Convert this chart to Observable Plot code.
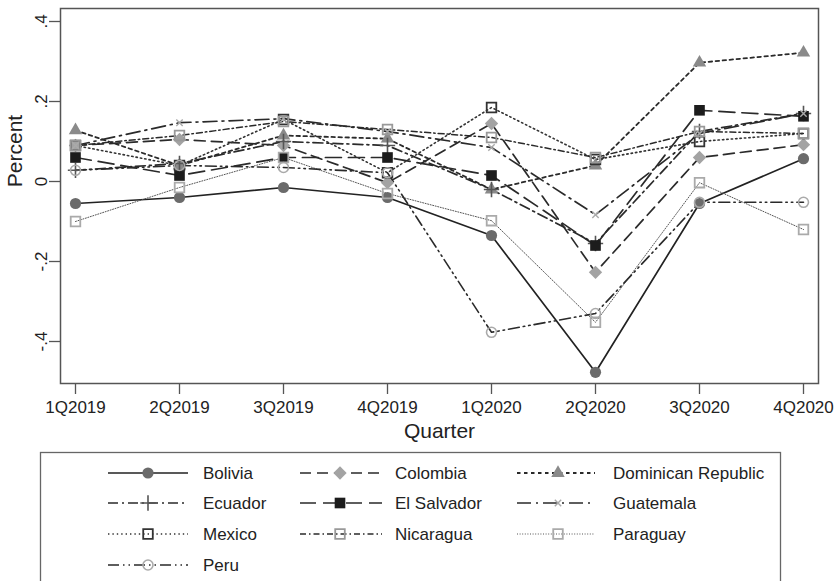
<!DOCTYPE html>
<html>
<head>
<meta charset="utf-8">
<script src="https://cdn.jsdelivr.net/npm/d3@7"></script>
<script src="https://cdn.jsdelivr.net/npm/@observablehq/plot@0.6"></script>
<style>
  html, body { margin: 0; padding: 0; background: white; }
  #wrap { position: relative; width: 837px; height: 581px; overflow: hidden; font-family: 'Liberation Sans', Arial, sans-serif; }
  #legend { position: absolute; left: 0; top: 445px; }
</style>
</head>
<body>
<div id="wrap"><div id="chart"></div><div id="legend"></div></div>
<script>
const quarters = ["1Q2019","2Q2019","3Q2019","4Q2019","1Q2020","2Q2020","3Q2020","4Q2020"];
const yTicks = [-0.4, -0.2, 0, 0.2, 0.4];
const yTickLabels = ["-.4", "-.2", "0", ".2", ".4"];

const bolivia    = [-0.055, -0.040, -0.015, -0.040, -0.135, -0.477, -0.055,  0.057];
const colombia   = [ 0.090,  0.105,  0.090, -0.003,  0.145, -0.227,  0.060,  0.092];
const dominican  = [ 0.128,  0.040,  0.115,  0.107, -0.020,  0.040,  0.297,  0.322];
const ecuador    = [ 0.028,  0.045,  0.100,  0.090, -0.020, -0.155,  0.125,  0.170];
const elSalvador = [ 0.060,  0.015,  0.060,  0.060,  0.015, -0.160,  0.178,  0.163];
const guatemala  = [ 0.090,  0.147,  0.157,  0.125,  0.085, -0.083,  0.120,  0.170];
const mexico     = [ 0.090,  0.040,  0.155,  0.022,  0.185,  0.055,  0.100,  0.120];
const nicaragua  = [ 0.090,  0.115,  0.150,  0.130,  0.110,  0.060,  0.125,  0.120];
const paraguay   = [-0.100, -0.015,  0.060, -0.030, -0.098, -0.352, -0.003, -0.120];
const peru       = [ 0.028,  0.040,  0.035,  0.022, -0.377, -0.330, -0.052, -0.052];

const countries = ["Bolivia","Colombia","Dominican Republic","Ecuador","El Salvador","Guatemala","Mexico","Nicaragua","Paraguay","Peru"];
const values = [bolivia, colombia, dominican, ecuador, elSalvador, guatemala, mexico, nicaragua, paraguay, peru];

// styles
const styles = {
  "Bolivia":            {dash: null,              lw: 1.7, lc: "#222",    sym: d3.symbolCircle,   r: 5.6, fill: "#6b6b6b", stroke: "none", sw: 0},
  "Colombia":           {dash: "11,6",            lw: 1.7, lc: "#2a2a2a", sym: d3.symbolDiamond2, r: 6.0, fill: "#a3a3a3", stroke: "none", sw: 0},
  "Dominican Republic": {dash: "3.5,3.5",         lw: 1.8, lc: "#2a2a2a", sym: d3.symbolTriangle, r: 5.0, fill: "#8a8a8a", stroke: "none", sw: 0},
  "Ecuador":            {dash: "10,4,2,4",        lw: 1.7, lc: "#2a2a2a", sym: d3.symbolPlus,     r: 5.0, fill: "none",    stroke: "#555", sw: 1.6},
  "El Salvador":        {dash: "16,7",            lw: 1.7, lc: "#2a2a2a", sym: d3.symbolSquare,   r: 6.0, fill: "#1c1c1c", stroke: "none", sw: 0},
  "Guatemala":          {dash: "14,5,2,5",        lw: 1.7, lc: "#2a2a2a", sym: d3.symbolTimes,    r: 3.0, fill: "none",    stroke: "#aaa", sw: 1.4},
  "Mexico":             {dash: "1.4,3",           lw: 1.6, lc: "#333",    sym: d3.symbolSquare,   r: 5.4, fill: "none",    stroke: "#333", sw: 1.8},
  "Nicaragua":          {dash: "6,3,1.5,3",       lw: 1.5, lc: "#2a2a2a", sym: d3.symbolSquare,   r: 5.4, fill: "none",    stroke: "#999", sw: 1.8},
  "Paraguay":           {dash: "1,1.6",           lw: 1.0, lc: "#555",    sym: d3.symbolSquare,   r: 5.4, fill: "none",    stroke: "#aaa", sw: 1.8},
  "Peru":               {dash: "11,4,1.5,4,1.5,4",lw: 1.6, lc: "#2a2a2a", sym: d3.symbolCircle,   r: 5.0, fill: "none",    stroke: "#aaa", sw: 1.6}
};

const rows = [];
countries.forEach((c, i) => values[i].forEach((v, j) => rows.push({country: c, quarter: quarters[j], value: v})));

const lineMarks = countries.map(c => {
  const s = styles[c];
  return Plot.line(rows.filter(d => d.country === c), {
    x: "quarter", y: "value", stroke: s.lc, strokeWidth: s.lw,
    strokeDasharray: s.dash || undefined, strokeLinejoin: "round"
  });
});
const dotMarks = countries.map(c => {
  const s = styles[c];
  return Plot.dot(rows.filter(d => d.country === c), {
    x: "quarter", y: "value", symbol: s.sym, r: s.r,
    fill: s.fill, stroke: s.stroke, strokeWidth: s.sw
  });
});

const chart = Plot.plot({
  width: 837, height: 445,
  marginLeft: 60, marginRight: 19, marginTop: 8, marginBottom: 62,
  x: {type: "point", domain: quarters, padding: 0.124},
  y: {domain: [-0.505, 0.4325]},
  style: {fontFamily: "'Liberation Sans', Arial, sans-serif", fontSize: "17px", color: "#222", background: "white"},
  marks: [
    Plot.axisX({tickSize: 11, tickPadding: 6, label: null, stroke: "#555", strokeWidth: 1.3, fontSize: 17, fill: "#222"}),
    Plot.axisY({ticks: yTicks, tickFormat: d => yTickLabels[yTicks.indexOf(d)], tickSize: 11, tickPadding: 3,
                tickRotate: -90, label: null, stroke: "#555", strokeWidth: 1.3, fontSize: 17, fill: "#222"}),
    ...lineMarks,
    ...dotMarks,
    Plot.frame({stroke: "#555", strokeWidth: 1.5}),
    Plot.text(["Quarter"], {frameAnchor: "bottom", dy: 48, fontSize: 21, textAnchor: "middle", lineAnchor: "middle", fill: "#222"}),
    Plot.text(["Percent"], {frameAnchor: "left", dx: -45, dy: -45, rotate: -90, fontSize: 21, textAnchor: "middle", lineAnchor: "middle", fill: "#222"})
  ]
});
document.getElementById("chart").appendChild(chart);

// legend
const leg = d3.create("svg").attr("width", 837).attr("height", 136)
  .style("font-family", "'Liberation Sans', Arial, sans-serif");
leg.append("rect").attr("x", 40.5).attr("y", 7.5).attr("width", 740).attr("height", 150)
  .attr("fill", "white").attr("stroke", "#666").attr("stroke-width", 1.3);
const cols = [{x0: 108, x1: 188, mx: 148, lx: 203}, {x0: 300, x1: 382, mx: 340, lx: 395}, {x0: 517, x1: 595, mx: 558, lx: 613}];
const rowY = [28, 58, 89, 120];
countries.forEach((c, i) => {
  const s = styles[c];
  const col = cols[i % 3], y = rowY[Math.floor(i / 3)];
  const g = leg.append("g");
  g.append("line").attr("x1", col.x0).attr("x2", col.x1).attr("y1", y).attr("y2", y)
    .attr("stroke", s.lc).attr("stroke-width", s.lw).attr("stroke-dasharray", s.dash);
  g.append("path").attr("transform", `translate(${col.mx},${y})`)
    .attr("d", d3.symbol(s.sym, Math.PI * s.r * s.r)())
    .attr("fill", s.fill).attr("stroke", s.stroke).attr("stroke-width", s.sw);
  g.append("text").attr("x", col.lx).attr("y", y).attr("dy", "0.35em")
    .attr("font-size", 17).attr("fill", "#222").text(c);
});
document.getElementById("legend").appendChild(leg.node());
</script>
</body>
</html>
